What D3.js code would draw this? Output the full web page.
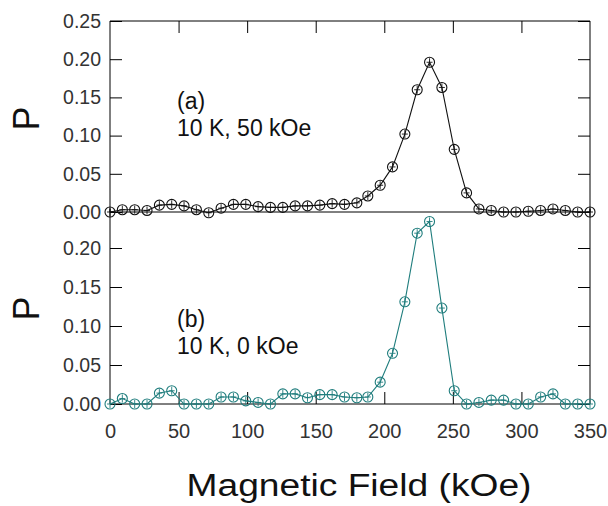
<!DOCTYPE html>
<html>
<head>
<meta charset="utf-8">
<script src="https://cdn.jsdelivr.net/npm/d3@7"></script>
<style>
  body { margin: 0; background: #fff; }
  svg { display: block; font-family: "Liberation Sans", Arial, sans-serif; }
</style>
</head>
<body>
<svg id="chart"></svg>
<script>
// campo magnetico (kOe), 40 punti da 0 a 350
var campo = [0, 9, 18, 27, 36, 45, 54, 63, 72, 81, 90, 99, 108, 117, 126, 135,
  144, 153, 162, 171, 180, 188, 197, 206, 215, 224, 233, 242, 251, 260, 269,
  278, 287, 296, 305, 314, 323, 332, 341, 350];

// (a) 10 K, 50 kOe
var serieA = [0.000, 0.003, 0.003, 0.002, 0.009, 0.010, 0.008, 0.003, -0.001, 0.005,
  0.010, 0.010, 0.007, 0.006, 0.006, 0.008, 0.008, 0.009, 0.011, 0.010,
  0.012, 0.021, 0.035, 0.059, 0.102, 0.160, 0.196, 0.163, 0.082, 0.025,
  0.004, 0.002, 0.000, 0.000, 0.001, 0.002, 0.004, 0.002, 0.000, 0.000];

// (b) 10 K, 0 kOe
var serieB = [0.000, 0.007, 0.000, 0.000, 0.014, 0.017, 0.000, 0.000, 0.000, 0.009,
  0.009, 0.004, 0.002, 0.000, 0.013, 0.013, 0.008, 0.012, 0.012, 0.009,
  0.008, 0.009, 0.028, 0.065, 0.131, 0.219, 0.234, 0.123, 0.017, 0.000,
  0.002, 0.005, 0.005, 0.000, 0.000, 0.009, 0.013, 0.000, 0.000, 0.000];

var tickX = [0, 50, 100, 150, 200, 250, 300, 350];
var tickYA = [0, 0.05, 0.10, 0.15, 0.20, 0.25];
var tickYB = [0, 0.05, 0.10, 0.15, 0.20];

var w = 608, h = 506;
var svg = d3.select("#chart").attr("width", w).attr("height", h);

var sx = 110, dx = 590;
var xScale = d3.scaleLinear().domain([0, 350]).range([sx, dx]);
// due pannelli impilati, stesso asse x
var yA = d3.scaleLinear().domain([0, 0.25]).range([212, 21]);
var yB = d3.scaleLinear().domain([0, 0.25]).range([404, 209]);

var tickLen = 12;
var fmt = d3.format(".2f");

// disegna un pannello: bordi, tacche interne, etichette y, dati
function pannello(yScale, ticksY, dati, colore, topTicks, bottomTicks, etich) {
  var top = yScale.range()[1], base = yScale(0);
  var g = svg.append("g");

  // asse sinistro con etichette
  g.append("g")
    .attr("transform", "translate(" + sx + ",0)")
    .call(d3.axisLeft(yScale).tickValues(ticksY).tickSize(-tickLen).tickPadding(9).tickFormat(fmt))
    .call(function(a) {
      a.select(".domain").remove();
      a.selectAll("text").style("font-size", "19.5px").attr("fill", "#333")
        .style("font-family", "Liberation Sans, Arial, sans-serif");
      a.selectAll("line").attr("stroke", "#000");
    });

  // tacche a destra
  g.append("g")
    .attr("transform", "translate(" + dx + ",0)")
    .call(d3.axisRight(yScale).tickValues(ticksY).tickSize(-tickLen).tickFormat(""))
    .call(function(a) { a.select(".domain").remove(); a.selectAll("line").attr("stroke", "#000"); });

  if (topTicks) {
    g.append("g")
      .attr("transform", "translate(0," + top + ")")
      .call(d3.axisTop(xScale).tickValues(tickX.slice(1, -1)).tickSize(-tickLen).tickFormat(""))
      .call(function(a) { a.select(".domain").remove(); a.selectAll("line").attr("stroke", "#000"); });
  }
  if (bottomTicks) {
    g.append("g")
      .attr("transform", "translate(0," + base + ")")
      .call(d3.axisBottom(xScale).tickValues(tickX).tickSize(-tickLen).tickPadding(tickLen + 8))
      .call(function(a) {
        a.select(".domain").remove();
        a.selectAll("line").attr("stroke", "#000");
        a.selectAll("line").filter(function(d) { return d === 0 || d === 350; }).remove();
        a.selectAll("text").style("font-size", "20px").attr("fill", "#333")
          .style("font-family", "Liberation Sans, Arial, sans-serif");
      });
  }

  // bordi
  g.append("line").attr("x1", sx).attr("x2", sx).attr("y1", base).attr("y2", top).attr("stroke", "#000");
  g.append("line").attr("x1", dx).attr("x2", dx).attr("y1", base).attr("y2", top).attr("stroke", "#000");
  g.append("line").attr("x1", sx).attr("x2", dx).attr("y1", base).attr("y2", base).attr("stroke", "#000");
  if (topTicks) {
    g.append("line").attr("x1", sx).attr("x2", dx).attr("y1", top).attr("y2", top).attr("stroke", "#000");
  }

  // linea dati
  var linea = d3.line()
    .x(function(d, i) { return xScale(campo[i]); })
    .y(function(d) { return yScale(d); });
  g.append("path").datum(dati)
    .attr("d", linea)
    .attr("fill", "none")
    .attr("stroke", colore)
    .attr("stroke-width", 1.1);

  // marcatori: cerchio con croce
  var m = g.selectAll(".marker").data(dati).enter().append("g")
    .attr("transform", function(d, i) { return "translate(" + xScale(campo[i]) + "," + yScale(d) + ")"; });
  m.append("circle").attr("r", 5).attr("fill", "none").attr("stroke", colore).attr("stroke-width", 1.1);
  m.append("path").attr("d", "M-3,0H3M0,-4V4").attr("stroke", colore).attr("stroke-width", 0.9);

  // etichetta P
  svg.append("text")
    .attr("transform", "translate(39," + ((base + top) / 2 + 2) + ") rotate(-90)")
    .attr("text-anchor", "middle")
    .style("font-size", "36px")
    .attr("fill", "#111")
    .text("P");

  // annotazione
  var t = svg.append("text")
    .attr("x", 177)
    .attr("y", etich.y)
    .style("font-size", "23px")
    .attr("fill", "#111");
  t.append("tspan").attr("x", 177).text(etich.a);
  t.append("tspan").attr("x", 177).attr("dy", 27).text(etich.b);
}

pannello(yA, tickYA, serieA, "#111", true, false, { y: 109, a: "(a)", b: "10 K, 50 kOe" });
pannello(yB, tickYB, serieB, "#1f7d7d", false, true, { y: 327, a: "(b)", b: "10 K, 0 kOe" });

// titolo asse x
svg.append("text")
  .attr("x", 359)
  .attr("y", 496)
  .attr("text-anchor", "middle")
  .attr("textLength", 345)
  .attr("lengthAdjust", "spacingAndGlyphs")
  .style("font-size", "31px")
  .attr("fill", "#111")
  .text("Magnetic Field (kOe)");
</script>
</body>
</html>
